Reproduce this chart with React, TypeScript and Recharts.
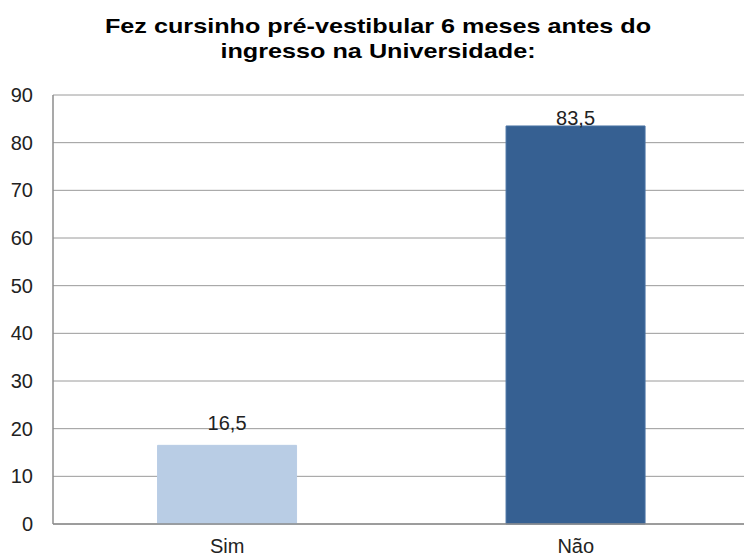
import * as React from "react";
import { BarChart, Bar, XAxis, YAxis, CartesianGrid, Cell, LabelList } from "recharts";

const categories = ["Sim", "Não"];
const percentages = [16.5, 83.5];
const barColors = ["#B9CDE5", "#366092"];
const yTicks = [0, 10, 20, 30, 40, 50, 60, 70, 80, 90];
// gap between bar top and its value label, as placed in the original
const labelGaps = [15, 1];

const data = categories.map((name, i) => ({ name, value: percentages[i] }));

const FONT = "'Liberation Sans', Arial, sans-serif";

function ValueLabel(props: any) {
  const { x, y, width, value, index } = props;
  return (
    <text
      x={x + width / 2}
      y={y - labelGaps[index]}
      textAnchor="middle"
      fontSize={20}
      fill="#222"
      fontFamily={FONT}
    >
      {String(value).replace(".", ",")}
    </text>
  );
}

export default function App() {
  return (
    <div style={{ position: "absolute", left: 0, top: 0, width: 744, height: 559, background: "#fff", overflow: "hidden", fontFamily: FONT }}>
      <div
        style={{
          position: "absolute",
          left: 0,
          top: 13,
          width: 756,
          textAlign: "center",
          fontWeight: "bold",
          fontSize: 21,
          lineHeight: "25px",
          color: "#000",
          transform: "scaleX(1.2)",
          transformOrigin: "378px 0",
        }}
      >
        Fez cursinho pré-vestibular 6 meses antes do
        <br />
        ingresso na Universidade:
      </div>
      <BarChart
        width={750}
        height={559}
        data={data}
        margin={{ top: 95, right: 0, left: 0, bottom: 0 }}
        barCategoryGap="30%"
        style={{ position: "absolute", left: 0, top: 0 }}
      >
        <CartesianGrid vertical={false} stroke="#9a9a9a" strokeWidth={1} />
        <XAxis
          dataKey="name"
          height={35}
          tickLine={false}
          tickSize={0}
          tickMargin={15}
          axisLine={{ stroke: "#8c8c8c", strokeWidth: 1.5 }}
          tick={{ fontSize: 20, fill: "#222", fontFamily: FONT }}
        />
        <YAxis
          width={53}
          domain={[0, 90]}
          ticks={yTicks}
          interval={0}
          tickLine={false}
          tickSize={0}
          tickMargin={20}
          axisLine={{ stroke: "#8c8c8c", strokeWidth: 1.5 }}
          tick={{ fontSize: 20, fill: "#222", fontFamily: FONT }}
        />
        <Bar dataKey="value" isAnimationActive={false}>
          {data.map((d, i) => (
            <Cell key={d.name} fill={barColors[i]} stroke={i === 1 ? "#4a73a5" : barColors[i]} />
          ))}
          <LabelList dataKey="value" content={ValueLabel} />
        </Bar>
      </BarChart>
    </div>
  );
}
